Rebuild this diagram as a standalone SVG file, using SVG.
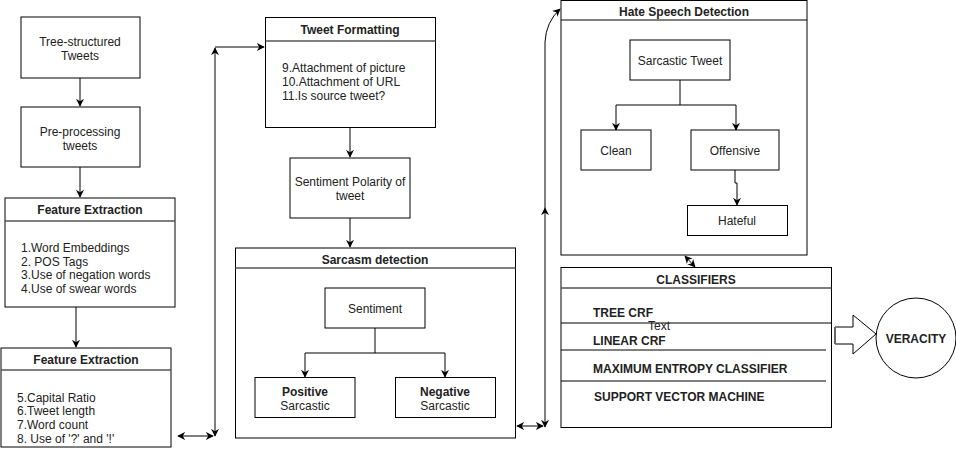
<svg xmlns="http://www.w3.org/2000/svg" width="956" height="459" viewBox="0 0 956 459">
<defs>
<marker id="ah" viewBox="0 0 10 10" refX="9" refY="5" markerWidth="8" markerHeight="8" orient="auto-start-reverse" markerUnits="userSpaceOnUse">
<path d="M0,0 L10,5 L0,10 L3,5 Z" fill="#000"/>
</marker>
</defs>
<style>
text{font-family:"Liberation Sans",Arial,sans-serif;font-size:12px;fill:#222}
.c{text-anchor:middle}
.b{font-weight:bold}
.box{fill:#fff;stroke:#000;stroke-width:1}
.hd{stroke:#555;stroke-width:1.5;fill:none}
.ln{stroke:#000;stroke-width:1;fill:none}
.e{stroke:#000;stroke-width:1;fill:none;marker-end:url(#ah)}
.e2{stroke:#000;stroke-width:1;fill:none;marker-end:url(#ah);marker-start:url(#ah)}
</style>
<rect width="956" height="459" fill="#fff"/>

<g id="tree-tweets">
<rect class="box" x="21" y="17" width="119" height="61"/>
<text class="c" x="80" y="46">Tree-structured</text>
<text class="c" x="80" y="60">Tweets</text>
</g>

<g id="preprocessing">
<rect class="box" x="21" y="107" width="119" height="60"/>
<text class="c" x="80" y="136">Pre-processing</text>
<text class="c" x="80" y="150">tweets</text>
</g>

<g id="feature-extraction-1">
<rect class="box" x="5" y="198" width="170" height="109"/>
<line class="hd" x1="5" y1="221" x2="175" y2="221"/>
<text class="c b" x="90" y="214">Feature Extraction</text>
<text x="21" y="252">1.Word Embeddings</text>
<text x="21" y="266">2. POS Tags</text>
<text x="21" y="279">3.Use of negation words</text>
<text x="21" y="293">4.Use of swear words</text>
</g>

<g id="feature-extraction-2">
<rect class="box" x="1" y="348" width="170" height="99"/>
<line class="hd" x1="1" y1="370" x2="171" y2="370"/>
<text class="c b" x="86" y="364">Feature Extraction</text>
<text x="17" y="402">5.Capital Ratio</text>
<text x="17" y="415">6.Tweet length</text>
<text x="17" y="429">7.Word count</text>
<text x="17" y="443">8. Use of '?' and '!'</text>
</g>

<g id="tweet-formatting">
<rect class="box" x="265.5" y="17.5" width="170" height="110"/>
<line class="hd" x1="265.5" y1="41" x2="435.5" y2="41"/>
<text class="c b" x="350" y="34">Tweet Formatting</text>
<text x="282" y="72">9.Attachment of picture</text>
<text x="282" y="86">10.Attachment of URL</text>
<text x="282" y="100">11.Is source tweet?</text>
</g>

<g id="sentiment-polarity">
<rect class="box" x="290" y="158" width="120" height="60"/>
<text class="c" x="350" y="186">Sentiment Polarity of</text>
<text class="c" x="350" y="200">tweet</text>
</g>

<g id="sarcasm-detection">
<rect class="box" x="235.5" y="248" width="280" height="190"/>
<line class="hd" x1="235.5" y1="268" x2="515.5" y2="268"/>
<text class="c b" x="375" y="264">Sarcasm detection</text>
</g>

<g id="sentiment">
<rect class="box" x="325" y="288" width="100" height="40"/>
<text class="c" x="375" y="313">Sentiment</text>
</g>

<g id="positive-sarcastic">
<rect class="box" x="255" y="377.5" width="100" height="40"/>
<text class="c b" x="305" y="396">Positive</text>
<text class="c" x="305" y="410">Sarcastic</text>
</g>

<g id="negative-sarcastic">
<rect class="box" x="395.5" y="377.5" width="100" height="40"/>
<text class="c b" x="445" y="396">Negative</text>
<text class="c" x="445" y="410">Sarcastic</text>
</g>

<g id="hate-speech-detection">
<rect class="box" x="561" y="0.5" width="246" height="254.5"/>
<line class="ln" x1="561" y1="20" x2="807" y2="20"/>
<text class="c b" x="684" y="16">Hate Speech Detection</text>
</g>

<g id="sarcastic-tweet">
<rect class="box" x="630" y="40" width="100" height="40"/>
<text class="c" x="680" y="65">Sarcastic Tweet</text>
</g>

<g id="clean">
<rect class="box" x="581" y="130" width="70" height="40"/>
<text class="c" x="616" y="155">Clean</text>
</g>

<g id="offensive">
<rect class="box" x="691" y="130" width="88" height="40"/>
<text class="c" x="735" y="155">Offensive</text>
</g>

<g id="hateful">
<rect class="box" x="687.5" y="205.5" width="100" height="30"/>
<text class="c" x="737" y="225">Hateful</text>
</g>

<g id="classifiers">
<rect class="box" x="561" y="267.5" width="270.5" height="160"/>
<line class="hd" x1="561" y1="288" x2="831.5" y2="288"/>
<text class="c b" x="696" y="284">CLASSIFIERS</text>
<text class="b" x="593" y="317">TREE CRF</text>
<line class="ln" x1="561" y1="323" x2="831.5" y2="323"/>
<text class="c" x="659" y="330">Text</text>
<text class="b" x="593" y="345">LINEAR CRF</text>
<line class="ln" x1="561" y1="350" x2="826" y2="350"/>
<text class="b" x="593" y="373">MAXIMUM ENTROPY CLASSIFIER</text>
<line class="ln" x1="561" y1="381" x2="826" y2="381"/>
<text class="b" x="594" y="401">SUPPORT VECTOR MACHINE</text>
</g>

<g id="veracity">
<circle cx="916" cy="338" r="40" fill="#fff" stroke="#000" stroke-width="1"/>
<text class="c b" x="916" y="343">VERACITY</text>
</g>

<g id="connectors">
<path class="e" d="M80,78 L80,106"/>
<path class="e" d="M80,167 L80,197"/>
<path class="e" d="M76,307 L76,347"/>
<path class="e2" d="M178,436 L213,436"/>
<path class="e2" d="M215,436 L215,48"/>
<path class="e" d="M215,47 L264,47"/>
<path class="e" d="M350,128 L350,157"/>
<path class="e" d="M350,218 L350,247"/>
<path class="ln" d="M375,328 L375,353 L305,353"/>
<path class="e" d="M305,353 L305,377"/>
<path class="ln" d="M375,353 L445,353"/>
<path class="e" d="M445,353 L445,377"/>
<path class="e2" d="M517,426 L543,426"/>
<path class="e2" d="M545,427 L545,208"/>
<path class="e" d="M545,208 L545,42 Q546,22 560,9"/>
<path class="ln" d="M680,80 L680,105 L616,105"/>
<path class="e" d="M616,105 L616,130"/>
<path class="ln" d="M680,105 L736,105"/>
<path class="e" d="M736,105 L736,130"/>
<path class="e" d="M735,170 L735,183 L737,183 L737,205"/>
<path class="e2" d="M685,256 L695,267"/>
<path d="M835,327 L853,327 L853,315 L876,334 L853,354 L853,344 L835,344 Z" fill="#fff" stroke="#000" stroke-width="1"/>
<path d="M835,327 L835,344" stroke="#666" stroke-width="2" fill="none"/>
</g>
</svg>
